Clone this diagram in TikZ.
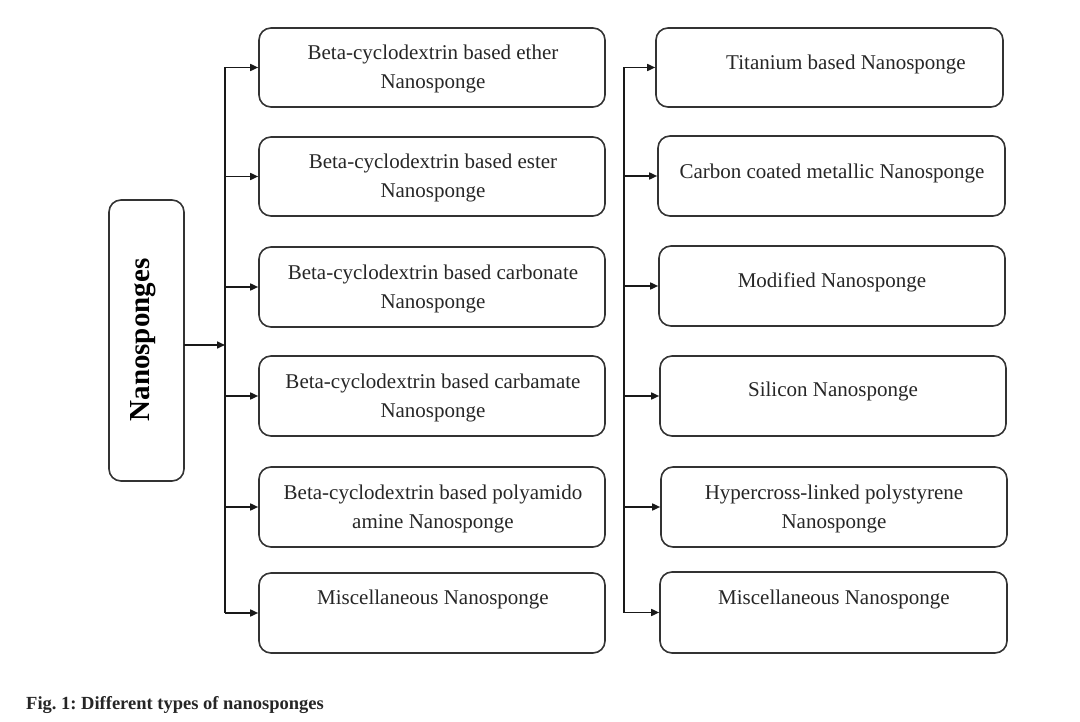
\documentclass[tikz,border=0pt]{standalone}
\usepackage{fontspec}
\setmainfont{Liberation Serif}
\usetikzlibrary{arrows.meta}
\begin{document}
\frenchspacing
\begin{tikzpicture}[x=1pt,y=-1pt,
  box/.style={draw=black!80, line width=1.6pt, rounded corners=12pt},
  lbl/.style={font=\fontsize{21}{29.5}\selectfont, align=center, text=black!85, inner sep=0pt},
  conn/.style={line width=1.6pt, draw=black!90},
  arr/.style={conn, -{Triangle[length=8pt,width=7pt]}}]
\useasboundingbox (0,0) rectangle (1080,722);
% root
\draw[box] (109,200) rectangle (184,481);
\node[rotate=90, font=\fontsize{29}{32}\selectfont\bfseries, inner sep=0pt] (root) at (143,340) {Nanosponges};
\coordinate (rootE) at (184,345);
% left column boxes
\node[box, minimum width=346pt, minimum height=79pt] (L1) at (432,67.5) {};
\node[box, minimum width=346pt, minimum height=79pt] (L2) at (432,176.5) {};
\node[box, minimum width=346pt, minimum height=80pt] (L3) at (432,287) {};
\node[box, minimum width=346pt, minimum height=80pt] (L4) at (432,396) {};
\node[box, minimum width=346pt, minimum height=80pt] (L5) at (432,507) {};
\node[box, minimum width=346pt, minimum height=80pt] (L6) at (432,613) {};
\node[lbl] (t1) at (433,69) {Beta-cyclodextrin based ether\\Nanosponge};
\node[lbl] (t2) at (433,178) {Beta-cyclodextrin based ester\\Nanosponge};
\node[lbl] (t3) at (433,289) {Beta-cyclodextrin based carbonate\\Nanosponge};
\node[lbl] (t4) at (433,398) {Beta-cyclodextrin based carbamate\\Nanosponge};
\node[lbl] (t5) at (433,509) {Beta-cyclodextrin based polyamido\\amine Nanosponge};
\node[lbl] (t6) at (433,599) {Miscellaneous Nanosponge};
% right column boxes
\node[box, minimum width=347pt, minimum height=79pt] (R1) at (829.5,67.5) {};
\node[box, minimum width=347pt, minimum height=80pt] (R2) at (831.5,176) {};
\node[box, minimum width=346pt, minimum height=80pt] (R3) at (832,286) {};
\node[box, minimum width=346pt, minimum height=80pt] (R4) at (833,396) {};
\node[box, minimum width=346pt, minimum height=80pt] (R5) at (834,507) {};
\node[box, minimum width=347pt, minimum height=81pt] (R6) at (833.5,612.5) {};
\node[lbl] (s1) at (846,64) {Titanium based Nanosponge};
\node[lbl] (s2) at (832,173) {Carbon coated metallic Nanosponge};
\node[lbl] (s3) at (832,282) {Modified Nanosponge};
\node[lbl] (s4) at (833,391) {Silicon Nanosponge};
\node[lbl] (s5) at (834,509) {Hypercross-linked polystyrene\\Nanosponge};
\node[lbl] (s6) at (834,599) {Miscellaneous Nanosponge};
% left trunk
\coordinate (lt) at (225,67.5);
\coordinate (lb) at (225,613);
\coordinate (lm) at (225,345);
\draw[conn] (lt) -- (lb);
\draw[arr] (rootE) -- (lm);
\foreach \n in {L1,L2,L3,L4,L5,L6}{
  \draw[arr] (\n.west -| lt) -- (\n.west);
}
% right trunk
\coordinate (rt) at (624,67.5);
\coordinate (rb) at (624,612.5);
\draw[conn] (rt) -- (rb);
\foreach \n in {R1,R2,R3,R4,R5,R6}{
  \draw[arr] (\n.west -| rt) -- (\n.west);
}
% caption
\node[anchor=west, font=\fontsize{18.5}{20}\selectfont\bfseries, text=black!85, inner sep=0pt] (cap) at (26,705) {Fig. 1: Different types of nanosponges};
\end{tikzpicture}
\end{document}
